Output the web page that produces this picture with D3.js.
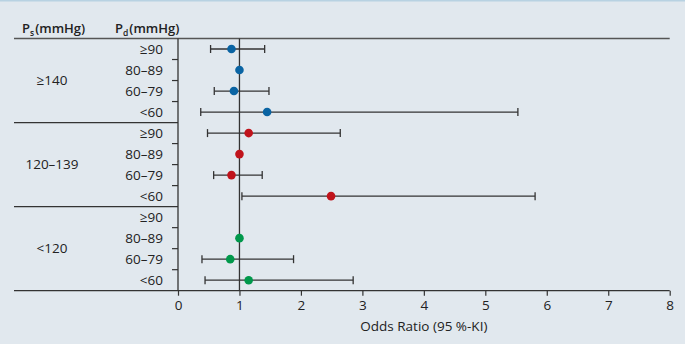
<!DOCTYPE html>
<html><head><meta charset="utf-8">
<script src="https://cdn.jsdelivr.net/npm/d3@7"></script>
<style>
html,body{margin:0;padding:0;background:#fff;}
svg{display:block;}
text{font-family:"Open Sans",sans-serif;fill:#222;}
</style></head>
<body>
<div id="chart"></div>
<script>
// ---- data ----
const groupLabels = ["≥140", "120–139", "<120"];
const rowLabels = ["≥90", "80–89", "60–79", "<60"];
const groupColors = ["#0a64a3", "#c0131b", "#00984b"];
const or140 = [0.87, 1.0, 0.91, 1.45];
const lo140 = [0.53, null, 0.59, 0.37];
const hi140 = [1.41, null, 1.48, 5.53];
const or120 = [1.15, 1.0, 0.87, 2.49];
const lo120 = [0.48, null, 0.58, 1.04];
const hi120 = [2.64, null, 1.37, 5.81];
const orLt120 = [null, 1.0, 0.85, 1.15];
const loLt120 = [null, null, 0.39, 0.44];
const hiLt120 = [null, null, 1.88, 2.85];
const xTicks = [0, 1, 2, 3, 4, 5, 6, 7, 8];
const xTitle = "Odds Ratio (95 %-KI)";

const W = 685, H = 346;
const svg = d3.select("#chart").append("svg").attr("width", W).attr("height", H);
svg.append("rect").attr("x", 0).attr("y", 0).attr("width", W).attr("height", 344).attr("fill", "#e1e8ee");
svg.append("rect").attr("x", 0).attr("y", 0).attr("width", W).attr("height", 1.5).attr("fill", "#b8d2e2");

const x = d3.scaleLinear().domain([0, 8]).range([178, 669.7]);
const y = d3.scaleBand().domain(d3.range(12)).range([38.5, 290.7]).padding(0);
const ink = "#333";

// rows
const ors = [or140, or120, orLt120], los = [lo140, lo120, loLt120], his = [hi140, hi120, hiLt120];
const rows = [];
groupLabels.forEach((g, gi) => rowLabels.forEach((r, ri) => {
  rows.push({g: gi, r: ri, idx: gi * 4 + ri, label: r, or: ors[gi][ri], lo: los[gi][ri], hi: his[gi][ri]});
}));

// top line
svg.append("line").attr("x1", 14).attr("x2", x(8)).attr("y1", 38.5).attr("y2", 38.5)
  .attr("stroke", "#555").attr("stroke-width", 1.6);
// group separators
[1, 2].forEach(gi => {
  svg.append("line").attr("x1", 14).attr("x2", x(0)).attr("y1", y(gi * 4)).attr("y2", y(gi * 4))
    .attr("stroke", ink).attr("stroke-width", 1.3);
});
// bottom line
svg.append("line").attr("x1", 14).attr("x2", x(8)).attr("y1", 290.7).attr("y2", 290.7)
  .attr("stroke", ink).attr("stroke-width", 1.3);
// y axis line
svg.append("line").attr("x1", x(0)).attr("x2", x(0)).attr("y1", 38.5).attr("y2", 290.7)
  .attr("stroke", ink).attr("stroke-width", 1.3);
// y ticks at inner boundaries
svg.append("g").selectAll("line").data(d3.range(12).filter(i => i % 4 !== 0)).join("line")
  .attr("x1", x(0) - 6).attr("x2", x(0)).attr("y1", d => y(d)).attr("y2", d => y(d))
  .attr("stroke", ink).attr("stroke-width", 1.2);
// reference line at 1
svg.append("line").attr("x1", x(1)).attr("x2", x(1)).attr("y1", 38.5).attr("y2", 290.7)
  .attr("stroke", ink).attr("stroke-width", 1.3);

// x axis
const ax = svg.append("g").attr("transform", "translate(0,290.7)")
  .call(d3.axisBottom(x).tickValues(xTicks).tickFormat(d3.format("d")).tickSize(5).tickPadding(5));
ax.select(".domain").remove();
ax.selectAll(".tick line").attr("stroke", ink).attr("stroke-width", 1.2);
ax.selectAll(".tick text").attr("font-size", 13.5).attr("font-family", "'Open Sans',sans-serif").attr("fill", "#222");
svg.append("text").attr("x", (x(0) + x(8)) / 2).attr("y", 330.5).attr("text-anchor", "middle")
  .attr("font-size", 13.5).text(xTitle);

// headers
const h1 = svg.append("text").attr("x", 22).attr("y", 33.3).attr("font-size", 13).attr("font-weight", 600);
h1.append("tspan").text("P");
h1.append("tspan").attr("font-size", 8.5).attr("dy", 2.5).text("s");
h1.append("tspan").attr("dy", -2.5).attr("dx", 1).text("(mmHg)");
const h2 = svg.append("text").attr("x", 115).attr("y", 33.3).attr("font-size", 13).attr("font-weight", 600);
h2.append("tspan").text("P");
h2.append("tspan").attr("font-size", 8.5).attr("dy", 2.5).text("d");
h2.append("tspan").attr("dy", -2.5).attr("dx", 1).text("(mmHg)");

// group labels
svg.append("g").selectAll("text").data(groupLabels).join("text")
  .attr("x", 52).attr("y", (d, i) => y(i * 4 + 2) + 4.8).attr("text-anchor", "middle")
  .attr("font-size", 13.5).text(d => d);
// row labels
svg.append("g").selectAll("text").data(rows).join("text")
  .attr("x", 163).attr("y", d => y(d.idx) + y.bandwidth() / 2 + 4.8).attr("text-anchor", "end")
  .attr("font-size", 13.5).text(d => d.label);

// error bars
const ci = rows.filter(d => d.lo != null);
const eg = svg.append("g").attr("stroke", ink).attr("stroke-width", 1.3);
eg.selectAll("line.h").data(ci).join("line").attr("class", "h")
  .attr("x1", d => x(d.lo)).attr("x2", d => x(d.hi))
  .attr("y1", d => y(d.idx) + y.bandwidth() / 2).attr("y2", d => y(d.idx) + y.bandwidth() / 2);
eg.selectAll("line.l").data(ci).join("line").attr("class", "l")
  .attr("x1", d => x(d.lo)).attr("x2", d => x(d.lo))
  .attr("y1", d => y(d.idx) + y.bandwidth() / 2 - 4).attr("y2", d => y(d.idx) + y.bandwidth() / 2 + 4);
eg.selectAll("line.u").data(ci).join("line").attr("class", "u")
  .attr("x1", d => x(d.hi)).attr("x2", d => x(d.hi))
  .attr("y1", d => y(d.idx) + y.bandwidth() / 2 - 4).attr("y2", d => y(d.idx) + y.bandwidth() / 2 + 4);
// points
svg.append("g").selectAll("circle").data(rows.filter(d => d.or != null)).join("circle")
  .attr("cx", d => x(d.or)).attr("cy", d => y(d.idx) + y.bandwidth() / 2).attr("r", 4.3)
  .attr("fill", d => groupColors[d.g]);
</script>
</body></html>
